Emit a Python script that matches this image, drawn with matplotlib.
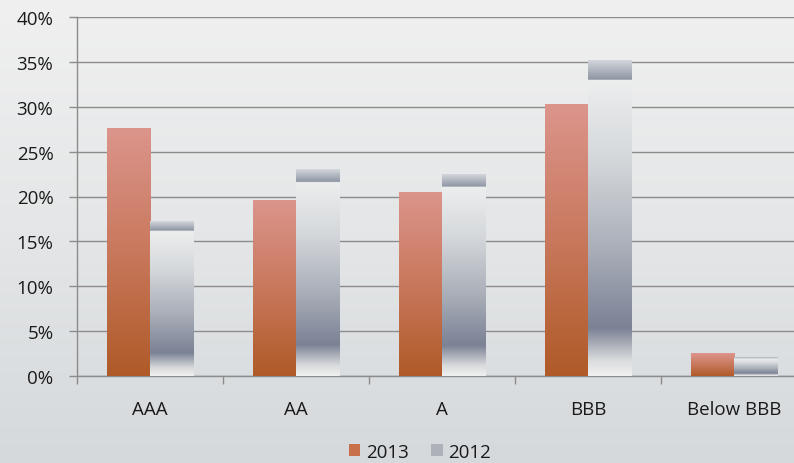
import numpy as np
import matplotlib
matplotlib.use("Agg")
import matplotlib.pyplot as plt
from matplotlib.colors import LinearSegmentedColormap
from matplotlib.patches import Patch

plt.rcParams['font.family'] = ['Open Sans', 'DejaVu Sans']

# Rating categories and share of portfolio (%)
categories = ["AAA", "AA", "A", "BBB", "Below BBB"]
share_2013 = [27.6, 19.5, 20.5, 30.2, 2.5]
share_2012 = [17.2, 23.0, 22.5, 35.2, 2.1]
series_labels = ["2013", "2012"]
y_ticks = [0, 5, 10, 15, 20, 25, 30, 35, 40]

W, H = 794, 464
fig = plt.figure(figsize=(W / 100, H / 100), dpi=100)

# Soft grey backdrop
bg = fig.add_axes([0, 0, 1, 1], zorder=0)
bg_cmap = LinearSegmentedColormap.from_list("bg", ["#f0f0f0", "#e4e6e7", "#d5d9dc"])
bg.imshow(np.linspace(0, 1, 256).reshape(-1, 1), aspect="auto", cmap=bg_cmap,
          extent=[0, 1, 0, 1], origin="upper")
bg.set_axis_off()

left_px, right_px, top_px, bot_px = 77, 807, 18, 377
ax = fig.add_axes([left_px / W, 1 - bot_px / H, (right_px - left_px) / W,
                   (bot_px - top_px) / H], zorder=1)
ax.set_facecolor("none")

x = np.arange(len(categories))
bw = 0.295
bars13 = ax.bar(x - bw / 2, share_2013, width=bw, color="none", zorder=3)
bars12 = ax.bar(x + bw / 2, share_2012, width=bw, color="none", zorder=3)

cmap13 = LinearSegmentedColormap.from_list(
    "c13", [(0, "#dc958c"), (0.5, "#c8785c"), (1, "#b05a28")])
cmap12 = LinearSegmentedColormap.from_list(
    "c12", [(0, "#d2d5da"), (0.06, "#8e95a3"), (0.062, "#eceeee"),
            (0.3, "#d6d9dc"), (0.6, "#a9aeb8"), (0.85, "#7b8295"),
            (0.95, "#d8dadc"), (1.0, "#f0f0f0")])

grad = np.linspace(0, 1, 512).reshape(-1, 1)
for bars, cm in ((bars13, cmap13), (bars12, cmap12)):
    for p in bars:
        x0, y0 = p.get_x(), p.get_y()
        w, h = p.get_width(), p.get_height()
        ax.imshow(grad, aspect="auto", cmap=cm, origin="upper",
                  extent=[x0, x0 + w, y0, y0 + h], zorder=3, interpolation="bilinear")

ax.set_xlim(-0.5, len(categories) - 0.5)
ax.set_ylim(0, 40)

grid_c = "#8c8c8c"
ax.set_yticks(y_ticks)
ax.set_yticklabels([f"{t}%" for t in y_ticks])
ax.yaxis.grid(True, color=grid_c, linewidth=1.0, zorder=1)
ax.set_axisbelow(True)

ax.set_xticks(np.arange(len(categories) + 1) - 0.5)
ax.set_xticklabels([])
ax.set_xticks(x, minor=True)
ax.set_xticklabels(categories, minor=True)
ax.tick_params(axis="x", which="major", length=6, color=grid_c, width=1, direction="out")
ax.tick_params(axis="x", which="minor", length=0, pad=17, labelsize=13.5, labelcolor="#1a1a1a")
ax.tick_params(axis="y", length=6, color=grid_c, width=1, pad=11, labelsize=13.5,
               labelcolor="#1a1a1a")

for s in ("top", "right"):
    ax.spines[s].set_visible(False)
for s in ("left", "bottom"):
    ax.spines[s].set_color(grid_c)
    ax.spines[s].set_linewidth(1.0)

handles = [Patch(facecolor="#c8704a", edgecolor="none"),
           Patch(facecolor="#adb1b9", edgecolor="none")]
fig.legend(handles, series_labels, loc="center", bbox_to_anchor=(420 / W, 1 - 453 / H),
           ncol=2, frameon=False, fontsize=13.5, handlelength=0.6, handleheight=0.6,
           handletextpad=0.3, columnspacing=1.2, labelcolor="#1a1a1a")

fig.savefig("out.png", dpi=100)
